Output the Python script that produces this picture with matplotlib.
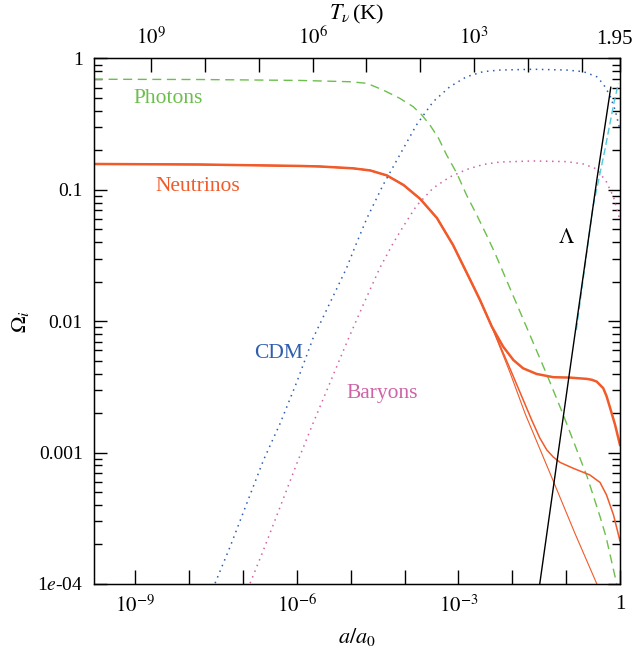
import numpy as np
import matplotlib
matplotlib.use("Agg")
import matplotlib.pyplot as plt
from matplotlib.ticker import LogLocator, NullLocator, NullFormatter
from matplotlib.transforms import ScaledTranslation

plt.rcParams['font.family'] = ['Liberation Serif', 'DejaVu Serif']
plt.rcParams['mathtext.fontset'] = 'stix'

# values, stored as log10(a/a0) and log10(Omega)
photon_loga = [-9.77, -7.80, -5.94, -5.01, -4.70, -4.40, -4.09, -3.84, -3.68, -3.53, -3.37,
               -3.22, -3.03, -2.85, -2.66, -2.48, -2.32, -1.34, -1.06, -0.61, -0.37, -0.26, -0.06]
photon_logO = [-0.158, -0.160, -0.167, -0.177, -0.189, -0.240, -0.303, -0.367, -0.430, -0.506, -0.607,
               -0.734, -0.874, -1.039, -1.191, -1.343, -1.483, -2.424, -2.705, -3.183, -3.487, -3.639, -4.0]

# the three neutrino curves share the early part
nu_common_loga = [-9.77, -7.80, -5.94, -5.57, -4.96, -4.64, -4.33, -4.02, -3.71, -3.40, -3.10, -2.79, -2.60, -2.38]
nu_common_logO = [-0.803, -0.807, -0.818, -0.822, -0.836, -0.852, -0.890, -0.963, -1.069, -1.214, -1.420, -1.678, -1.838, -2.041]

nu_heavy_loga = [-2.17, -1.98, -1.80, -1.55, -1.24, -0.93, -0.61, -0.52, -0.43, -0.31, -0.25, -0.19, -0.09, 0.0]
nu_heavy_logO = [-2.193, -2.295, -2.358, -2.401, -2.426, -2.429, -2.439, -2.446, -2.460, -2.510, -2.569, -2.650, -2.789, -2.941]

nu_mid_loga = [-2.04, -1.64, -1.49, -1.36, -1.24, -1.11, -0.87, -0.56, -0.37, -0.25, -0.12, 0.0]
nu_mid_logO = [-2.363, -2.751, -2.888, -2.979, -3.033, -3.075, -3.119, -3.170, -3.227, -3.322, -3.474, -3.672]

nu_light_loga = [-2.04, -1.76, -1.24, -0.84, -0.43]
nu_light_logO = [-2.393, -2.705, -3.215, -3.611, -3.999]

cdm_loga = [-7.52, -7.24, -6.93, -6.62, -6.31, -6.00, -5.70, -5.39, -5.08, -4.92, -4.70, -4.40, -4.09,
            -3.78, -3.47, -3.16, -2.85, -2.54, -2.23, -1.61, -0.99, -0.68, -0.43, -0.31, -0.19, -0.09, 0.0]
cdm_logO = [-3.994, -3.715, -3.385, -3.056, -2.776, -2.460, -2.129, -1.863, -1.597, -1.432, -1.216, -0.963, -0.734,
            -0.506, -0.329, -0.215, -0.139, -0.100, -0.088, -0.082, -0.088, -0.100, -0.139, -0.194, -0.278, -0.392, -0.544]

baryon_loga = [-6.87, -6.62, -6.31, -6.00, -5.70, -5.39, -5.08, -4.77, -4.46, -4.21, -4.02, -3.78, -3.47,
               -3.16, -2.85, -2.54, -2.23, -1.61, -0.99, -0.68, -0.43, -0.25, -0.12, 0.0]
baryon_logO = [-3.994, -3.740, -3.411, -3.081, -2.776, -2.472, -2.167, -1.876, -1.594, -1.404, -1.275, -1.122, -0.986,
               -0.902, -0.845, -0.807, -0.788, -0.780, -0.785, -0.803, -0.841, -0.940, -1.054, -1.229]

lambda_loga = [-1.49, -0.93, -0.43, -0.17]
lambda_logO = [-4.0, -2.371, -0.925, -0.219]

de_loga = [-0.81, -0.59, -0.50, -0.28, -0.12, -0.03]
de_logO = [-2.066, -1.394, -1.128, -0.696, -0.354, -0.189]

x_ticks = [1e-9, 1e-8, 1e-7, 1e-6, 1e-5, 1e-4, 1e-3, 1e-2, 1e-1, 1.0]
x_labels = [r'$10^{-9}$', '', '', r'$10^{-6}$', '', '', r'$10^{-3}$', '', '', '1']
y_ticks = [1e-4, 1e-3, 1e-2, 1e-1, 1.0]
y_labels = ['1$e$-04', '0.001', '0.01', '0.1', '1']
T_ticks = [1e9, 1e8, 1e7, 1e6, 1e5, 1e4, 1e3, 1e2, 1e1, 1.95]
T_labels = [r'$10^9$', '', '', r'$10^6$', '', '', r'$10^3$', '', '', '1.95']
T_today = 1.95

c_nu = '#f15a29'
c_gam = '#6cbf4c'
c_cdm = '#2d5fae'
c_bar = '#cf63a6'
c_de = '#55c8dc'


def p(lx, ly):
    return 10.0 ** np.array(lx), 10.0 ** np.array(ly)


fig = plt.figure(figsize=(6.35, 6.58), dpi=100)
ax = fig.add_axes([0.148, 0.1125, 0.8283, 0.7986])

ax.plot(*p(photon_loga, photon_logO), color=c_gam, lw=1.0, dashes=(6.5, 4))

ax.plot(*p(nu_common_loga + nu_light_loga, nu_common_logO + nu_light_logO), color=c_nu, lw=0.8)
ax.plot(*p(nu_common_loga + nu_mid_loga, nu_common_logO + nu_mid_logO), color=c_nu, lw=1.1)
ax.plot(*p(nu_common_loga + nu_heavy_loga, nu_common_logO + nu_heavy_logO), color=c_nu, lw=1.8)

ax.plot(*p(cdm_loga, cdm_logO), color=c_cdm, lw=1.1, linestyle=(0, (1, 3)))
ax.plot(*p(baryon_loga, baryon_logO), color=c_bar, lw=1.1, linestyle=(0, (1, 3)))

ax.plot(*p(de_loga, de_logO), color=c_de, lw=1.0, dashes=(5, 2.5))
ax.plot(*p(lambda_loga, lambda_logO), color='black', lw=1.0)

ax.set_xscale('log')
ax.set_yscale('log')
ax.set_xlim(10 ** -9.77, 1.0)
ax.set_ylim(1e-4, 1.0)

ax.set_xticks(x_ticks)
ax.set_xticklabels(x_labels)
ax.xaxis.set_minor_locator(NullLocator())
ax.set_yticks(y_ticks)
ax.set_yticklabels(y_labels)
ax.yaxis.set_minor_locator(LogLocator(base=10, subs=np.arange(2, 10)))
ax.yaxis.set_minor_formatter(NullFormatter())

ax.tick_params(which='both', direction='in', right=True, top=False, width=1.0, labelsize=14)
ax.tick_params(axis='x', which='major', length=10, pad=8, labelsize=15)
ax.tick_params(axis='y', which='major', length=9, pad=8)
ax.tick_params(axis='y', which='minor', length=5.5)
for s in ax.spines.values():
    s.set_linewidth(1.0)

ax.set_xlabel(r'$a/a_0$', fontsize=16, labelpad=6)
ax.set_ylabel(r'$\Omega_i$', fontsize=16, labelpad=4)

# temperature axis on top, T = T_today / a
ax2 = ax.twiny()
ax2.set_xscale('log')
ax2.set_xlim(ax.get_xlim())
ax2.set_xticks([T_today / T for T in T_ticks])
ax2.set_xticklabels(T_labels)
ax2.xaxis.set_minor_locator(NullLocator())
ax2.tick_params(direction='in', length=10, width=1.0, labelsize=15, pad=7)
ax2.set_xlabel(r'$T_\nu\,$(K)', fontsize=16, labelpad=5)

# nudge "1.95" left so it stays inside the figure
last = ax2.get_xticklabels()[-1]
last.set_transform(last.get_transform() + ScaledTranslation(-4 / 72, 0, fig.dpi_scale_trans))

ax.text(0.141, 0.915, 'Photons', color=c_gam, fontsize=15.5, ha='center', va='baseline', transform=ax.transAxes)
ax.text(0.197, 0.747, 'Neutrinos', color=c_nu, fontsize=15.5, ha='center', va='baseline', transform=ax.transAxes)
ax.text(0.350, 0.4295, 'CDM', color=c_cdm, fontsize=15.5, ha='center', va='baseline', transform=ax.transAxes)
ax.text(0.548, 0.353, 'Baryons', color=c_bar, fontsize=15.5, ha='center', va='baseline', transform=ax.transAxes)
ax.text(0.899, 0.648, r'$\Lambda$', color='black', fontsize=15.5, ha='center', va='baseline', transform=ax.transAxes)

fig.savefig('out.png', dpi=100)
